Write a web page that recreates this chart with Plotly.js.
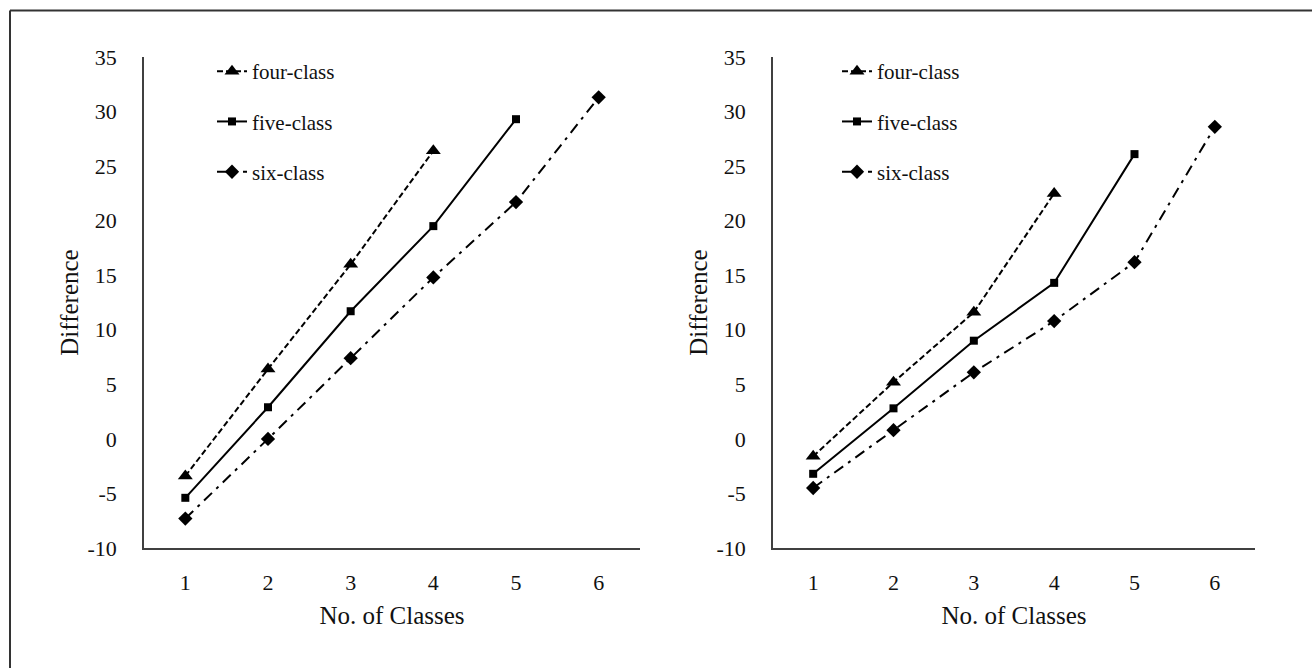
<!DOCTYPE html>
<html>
<head>
<meta charset="utf-8">
<script src="https://cdn.plot.ly/plotly-3.0.1.min.js"></script>
<style>html,body{margin:0;padding:0;background:#fff}#chart{width:1312px;height:668px}</style>
</head>
<body>
<div id="chart"></div>
<script>
const classes = [1, 2, 3, 4, 5, 6];
const seriesNames = ["four-class", "five-class", "six-class"];

// Left panel
const leftFour = [-3.4, 6.4, 16.0, 26.4];
const leftFive = [-5.4, 2.9, 11.7, 19.5, 29.3];
const leftSix  = [-7.3, 0.0, 7.4, 14.8, 21.7, 31.3];

// Right panel
const rightFour = [-1.6, 5.2, 11.6, 22.5];
const rightFive = [-3.2, 2.8, 9.0, 14.3, 26.1];
const rightSix  = [-4.5, 0.8, 6.1, 10.8, 16.2, 28.6];

const yTicks = [-10, -5, 0, 5, 10, 15, 20, 25, 30, 35];
const yTickText = ["-10", "-5", "0", "5", "10", "15", "20", "25", "30", "35"];

const FONT = "Liberation Serif, Times New Roman, serif";
const styles = [
  {dash: "6px,3px", symbol: "triangle-up", size: 13},
  {dash: "solid", symbol: "square", size: 8},
  {dash: "11px,6px,3px,6px", symbol: "diamond", size: 11}
];

function mk(vals, i, xa, ya, leg) {
  return {
    x: classes.slice(0, vals.length), y: vals,
    type: "scatter", mode: "lines+markers",
    name: seriesNames[i], legend: leg, legendgroup: leg + i,
    xaxis: xa, yaxis: ya,
    line: {color: "#000", width: 2, dash: styles[i].dash},
    marker: {color: "#000", symbol: styles[i].symbol, size: styles[i].size},
    hoverinfo: "x+y"
  };
}

const data = [
  mk(leftFour, 0, "x", "y", "legend"),
  mk(leftFive, 1, "x", "y", "legend"),
  mk(leftSix, 2, "x", "y", "legend"),
  mk(rightFour, 0, "x2", "y2", "legend2"),
  mk(rightFive, 1, "x2", "y2", "legend2"),
  mk(rightSix, 2, "x2", "y2", "legend2")
];

const W = 1312, H = 668;
function xAxis(d) {
  return {
    domain: d, range: [0.5, 6.5], tickvals: classes, ticktext: classes.map(String),
    showgrid: false, zeroline: false, showline: true, linecolor: "#404040", linewidth: 1.5,
    ticks: "", ticklabelstandoff: 14, tickfont: {family: FONT, size: 22, color: "#111"},
    title: {text: "No. of Classes", font: {family: FONT, size: 25, color: "#111"}, standoff: 12},
    fixedrange: true
  };
}
function yAxis(anchor) {
  return {
    domain: [120 / H, 611 / H], range: [-10, 35], tickvals: yTicks, ticktext: yTickText,
    anchor: anchor,
    showgrid: false, zeroline: false, showline: true, linecolor: "#404040", linewidth: 1.5,
    ticks: "", ticklabelstandoff: 21, tickfont: {family: FONT, size: 22, color: "#111"},
    title: {text: "Difference", font: {family: FONT, size: 25, color: "#111"}, standoff: 2},
    fixedrange: true
  };
}

const legendBase = {
  y: 1 - 51 / H, xanchor: "left", yanchor: "top",
  font: {family: FONT, size: 21, color: "#111"}, bgcolor: "rgba(0,0,0,0)",
  tracegroupgap: 20, traceorder: "grouped", itemclick: false, itemdoubleclick: false
};

const layout = {
  width: W, height: H,
  margin: {l: 0, r: 0, t: 0, b: 0},
  paper_bgcolor: "#fff", plot_bgcolor: "#fff",
  showlegend: true,
  xaxis: Object.assign(xAxis([144 / W, 640 / W]), {anchor: "y"}),
  yaxis: yAxis("x"),
  xaxis2: Object.assign(xAxis([773 / W, 1255 / W]), {anchor: "y2"}),
  yaxis2: yAxis("x2"),
  legend: Object.assign({x: 212 / W}, legendBase),
  legend2: Object.assign({x: 837 / W}, legendBase),
  shapes: [
    {type: "line", xref: "paper", yref: "paper", x0: 10 / W, x1: 1, y0: 1 - 10.5 / H, y1: 1 - 10.5 / H,
     line: {color: "#333", width: 2}},
    {type: "line", xref: "paper", yref: "paper", x0: 10 / W, x1: 10 / W, y0: 0, y1: 1 - 10.5 / H,
     line: {color: "#333", width: 2}}
  ]
};

Plotly.newPlot("chart", data, layout, {displayModeBar: false});
</script>
</body>
</html>
